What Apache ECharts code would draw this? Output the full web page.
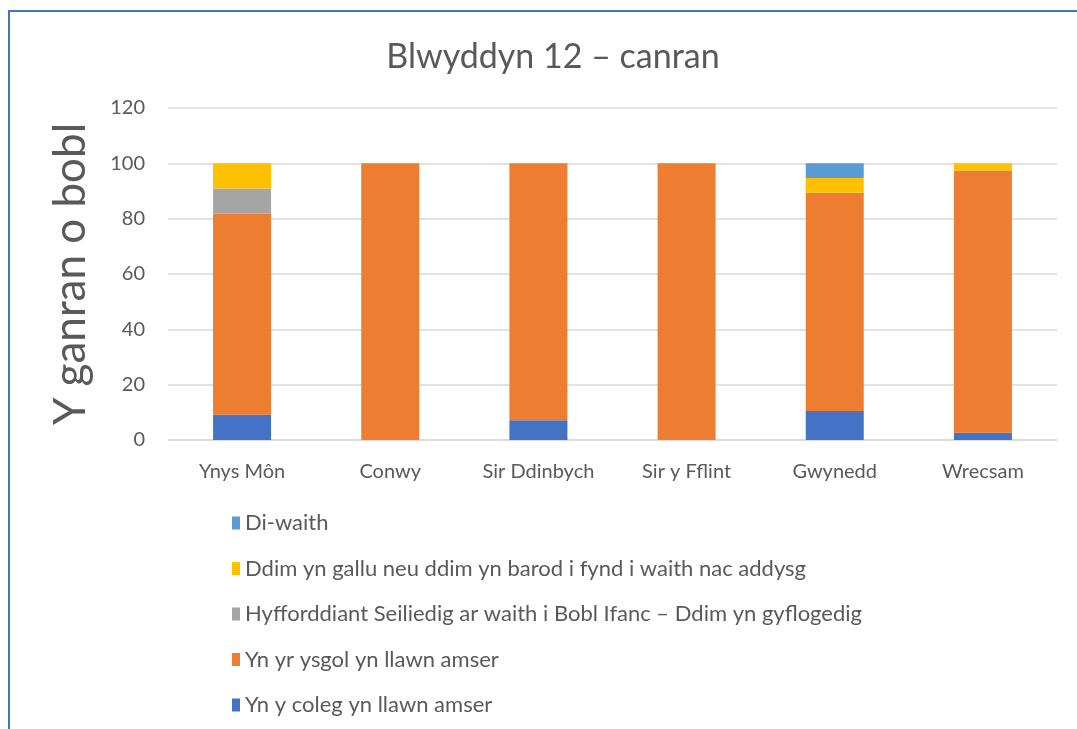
<!DOCTYPE html>
<html>
<head>
<meta charset="utf-8">
<title>Blwyddyn 12 – canran</title>
<script src="https://cdn.jsdelivr.net/npm/echarts@6/dist/echarts.min.js"></script>
<style>
    html, body { margin: 0; padding: 0; background: #fff; }
    #chart { width: 1077px; height: 729px; }
</style>
</head>
<body>
<div id="chart"></div>
<script>
// categories (siroedd)
var categories = ['Ynys Môn', 'Conwy', 'Sir Ddinbych', 'Sir y Fflint', 'Gwynedd', 'Wrecsam'];

// series values (%), bottom of the stack first
var coleg = [9.1, 0, 7.1, 0, 10.5, 2.6];
var ysgol = [72.7, 100, 92.9, 100, 78.9, 94.8];
var hyfforddiant = [9.1, 0, 0, 0, 0, 0];
var ddimGallu = [9.1, 0, 0, 0, 5.3, 2.6];
var diWaith = [0, 0, 0, 0, 5.3, 0];

var yTicks = [0, 20, 40, 60, 80, 100, 120];

var names = {
    coleg: 'Yn y coleg yn llawn amser',
    ysgol: 'Yn yr ysgol yn llawn amser',
    hyff: 'Hyfforddiant Seiliedig ar waith i Bobl Ifanc – Ddim yn gyflogedig',
    ddim: 'Ddim yn gallu neu ddim yn barod i fynd i waith nac addysg',
    diwaith: 'Di-waith'
};

var textColor = '#595959';
var font = 'Lato';

var chart = echarts.init(document.getElementById('chart'));

function barSeries(name, data, color) {
    return {
        name: name,
        type: 'bar',
        stack: 'total',
        barWidth: 58,
        data: data,
        itemStyle: { color: color },
        emphasis: { disabled: true }
    };
}

var option = {
    backgroundColor: '#fff',
    animation: false,
    textStyle: { fontFamily: font, color: textColor },
    title: {
        text: 'Blwyddyn 12 – canran',
        left: 548,
        top: 35,
        textAlign: 'center',
        textStyle: { fontFamily: font, fontSize: 34, fontWeight: 'normal', color: textColor }
    },
    graphic: [{
        type: 'polyline',
        shape: { points: [[9, 729], [9, 11], [1077, 11]] },
        style: { stroke: '#4472C4', lineWidth: 2, fill: null },
        silent: true
    }],
    legend: {
        orient: 'vertical',
        left: 232,
        top: 512,
        padding: 0,
        itemWidth: 8,
        itemHeight: 13,
        itemGap: 23.5,
        icon: 'rect',
        data: [names.diwaith, names.ddim, names.hyff, names.ysgol, names.coleg],
        textStyle: { fontFamily: font, fontSize: 22, lineHeight: 22, color: textColor },
        selectedMode: false
    },
    grid: { left: 168, right: 20, top: 108, bottom: 289, containLabel: false },
    xAxis: {
        type: 'category',
        data: categories,
        axisTick: { show: false },
        axisLine: { lineStyle: { color: '#d9d9d9', width: 1.5 } },
        axisLabel: { fontFamily: font, fontSize: 20, color: textColor, margin: 22, interval: 0, hideOverlap: false }
    },
    yAxis: {
        type: 'value',
        min: yTicks[0],
        max: yTicks[yTicks.length - 1],
        interval: 20,
        name: 'Y ganran o bobl',
        nameLocation: 'middle',
        nameGap: 75,
        nameTextStyle: { fontFamily: font, fontSize: 44, color: textColor },
        axisLine: { show: false },
        axisTick: { show: false },
        splitLine: { lineStyle: { color: '#d9d9d9', width: 1.5 } },
        axisLabel: { fontFamily: font, fontSize: 20, color: textColor, margin: 23 }
    },
    series: [
        barSeries(names.coleg, coleg, '#4472C4'),
        barSeries(names.ysgol, ysgol, '#ED7D31'),
        barSeries(names.hyff, hyfforddiant, '#A5A5A5'),
        barSeries(names.ddim, ddimGallu, '#FFC000'),
        barSeries(names.diwaith, diWaith, '#5B9BD5')
    ]
};

chart.setOption(option);

window.addEventListener('resize', function () {
    chart.resize();
});
</script>
</body>
</html>
